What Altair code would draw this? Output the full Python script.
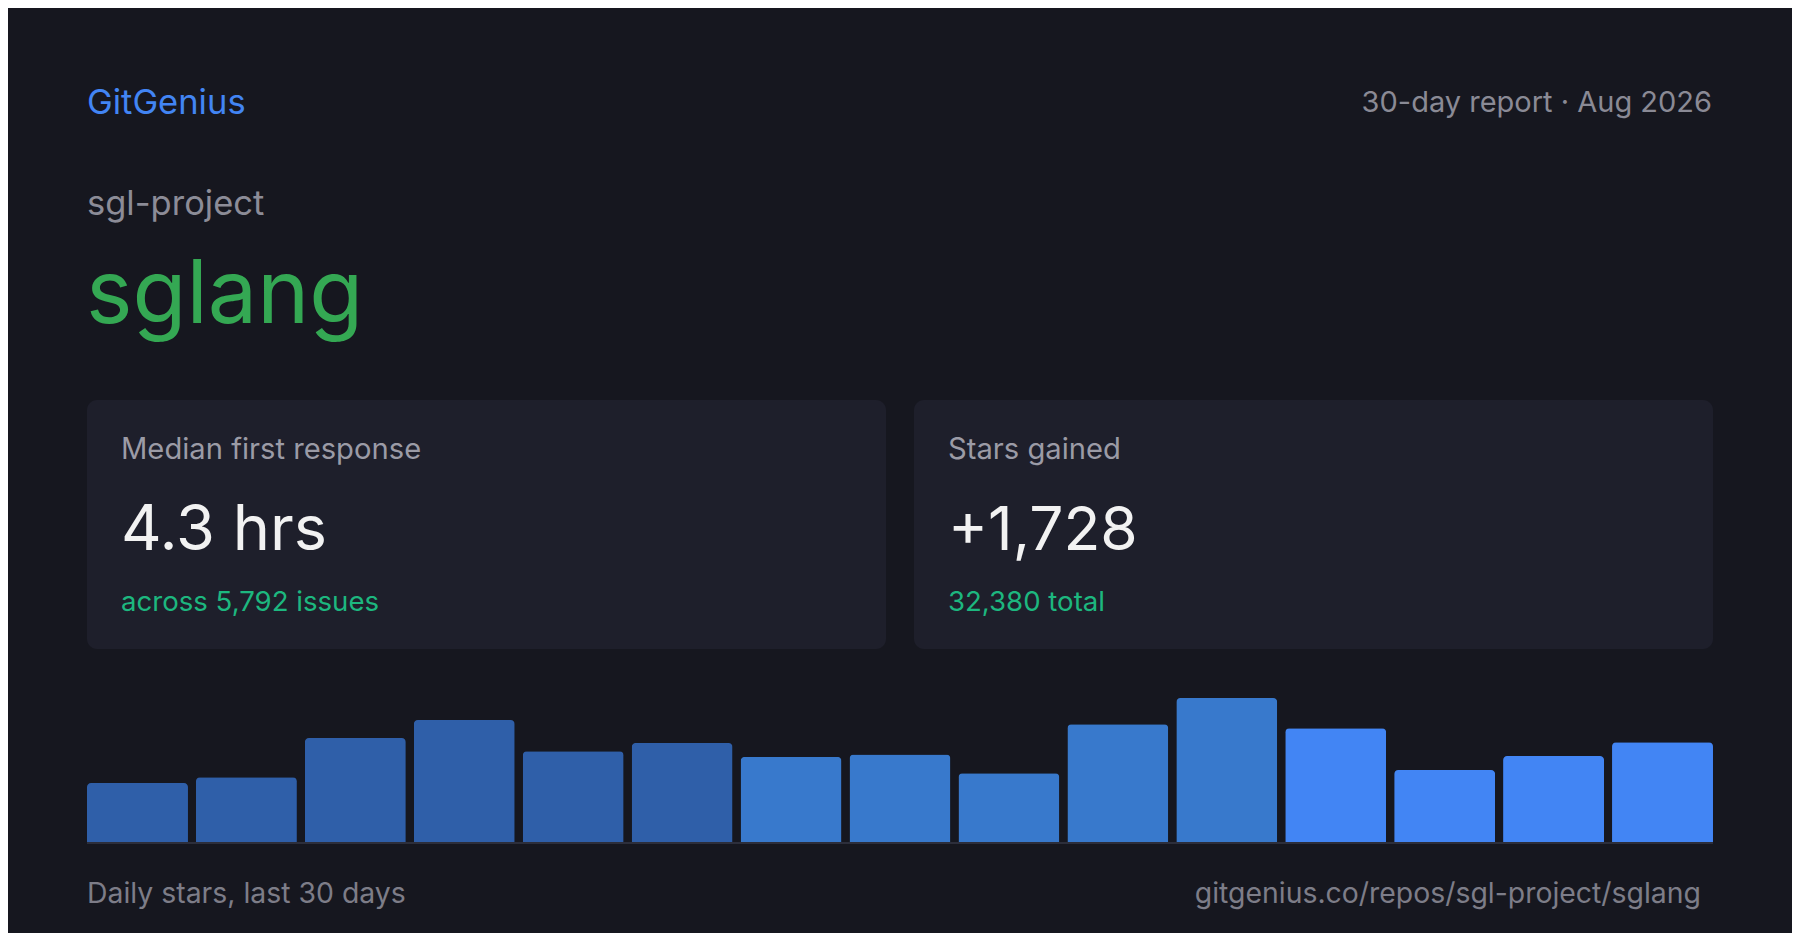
import altair as alt
import pandas as pd

# ---- data ----
periods = ["Jul 3-4", "Jul 5-6", "Jul 7-8", "Jul 9-10", "Jul 11-12", "Jul 13-14",
           "Jul 15-16", "Jul 17-18", "Jul 19-20", "Jul 21-22", "Jul 23-24",
           "Jul 25-26", "Jul 27-28", "Jul 29-30", "Jul 31-Aug 1"]
stars = [72, 79, 127, 149, 111, 121, 104, 107, 84, 144, 176, 139, 88, 105, 122]
segment = ["first", "first", "first", "first", "first", "first",
           "middle", "middle", "middle", "middle", "middle",
           "last", "last", "last", "last"]

brand = "GitGenius"
report_label = "30-day report · Aug 2026"
owner = "sgl-project"
repo = "sglang"
card1_title = "Median first response"
card1_value = "4.3 hrs"
card1_sub = "across 5,792 issues"
card2_title = "Stars gained"
card2_value = "+1,728"
card2_sub = "32,380 total"
footer_left = "Daily stars, last 30 days"
footer_right = "gitgenius.co/repos/sgl-project/sglang"

# ---- styles ----
BG = "#16171f"
CARD = "#1e1f2b"
FONT = "Inter"

bars_df = pd.DataFrame({"period": periods, "stars": stars, "segment": segment})

bars = alt.Chart(bars_df).mark_bar(
    cornerRadiusTopLeft=4, cornerRadiusTopRight=4
).encode(
    x=alt.X("period:N", sort=None, axis=None,
            scale=alt.Scale(range=[79, 1705], paddingInner=0.073, paddingOuter=0)),
    y=alt.Y("stars:Q", axis=None,
            scale=alt.Scale(domain=[0, 176], range=[834, 690], nice=False, zero=True)),
    color=alt.Color("segment:N", legend=None,
                    scale=alt.Scale(domain=["first", "middle", "last"],
                                    range=["#2f5fa9", "#3879cc", "#4285f4"])),
)

one = pd.DataFrame({"k": [0]})

baseline = alt.Chart(one).mark_rule(color="#2c2e3b", strokeWidth=2).encode(
    x=alt.value(79), x2=alt.value(1705), y=alt.value(835)
)


def card(x0, x1):
    return alt.Chart(one).mark_rect(color=CARD, cornerRadius=10).encode(
        x=alt.value(x0), x2=alt.value(x1), y=alt.value(392), y2=alt.value(641)
    )


def label(txt, x, y, size, color, align="left"):
    return alt.Chart(pd.DataFrame({"t": [txt]})).mark_text(
        font=FONT, fontSize=size, color=color, align=align,
        baseline="alphabetic", fontWeight=400
    ).encode(x=alt.value(x), y=alt.value(y), text="t:N")


layers = [
    card(79, 878),
    card(906, 1705),
    bars,
    baseline,
    label(brand, 79, 106, 34.5, "#4285f4"),
    label(report_label, 1704, 104, 29, "#8a8a95", align="right"),
    label(owner, 79, 207, 34.5, "#8c8c97"),
    label(repo, 78, 315, 88, "#34a853"),
    label(card1_title, 113, 451, 29.2, "#9b9ba6"),
    label(card1_value, 113, 542, 63, "#f2f2f2"),
    label(card1_sub, 113, 603, 27.6, "#1db77f"),
    label(card2_title, 940, 451, 29.2, "#9b9ba6"),
    label(card2_value, 940, 542, 60.5, "#f2f2f2"),
    label(card2_sub, 940, 603, 27.6, "#1db77f"),
    label(footer_left, 79, 895, 28.4, "#7d7d88"),
    label(footer_right, 1693, 895, 28.4, "#7d7d88", align="right"),
]

chart = alt.layer(*layers).properties(
    width=1784, height=925, padding=0,
    autosize=alt.AutoSizeParams(type="none"),
).configure(background=BG).configure_view(stroke=None)

chart.save("out.html", embed_options={"renderer": "svg", "actions": False})
